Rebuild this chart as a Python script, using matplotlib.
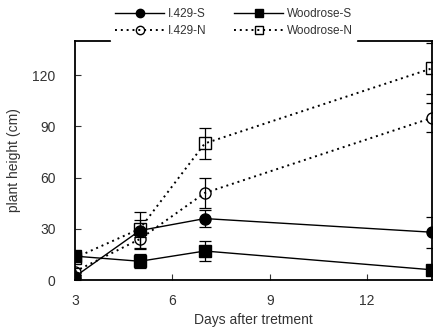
import matplotlib.pyplot as plt
from matplotlib.lines import Line2D

plt.rcParams['font.family'] = ['Liberation Sans', 'DejaVu Sans']

# data
days = [3, 5, 7, 14]
i429_s = [2, 29, 36, 28]
i429_s_err = [1, 11, 5, 9]
wood_s = [14, 11, 17, 6]
wood_s_err = [2, 4, 6, 2]
i429_n = [5, 24, 51, 95]
i429_n_err = [2, 5, 9, 8.5]
wood_n = [13, 30, 80, 124]
wood_n_err = [2, 5, 9, 15]

fig = plt.figure(figsize=(4.33, 3.33), dpi=100)
ax = fig.add_axes([0.173, 0.159, 0.825, 0.718])

dot = (0, (1, 2))
common = dict(color='black', capsize=4, elinewidth=0.9, capthick=0.9, markersize=8)
ax.errorbar(days, i429_s, yerr=i429_s_err, marker='o', ls='-', lw=1, mfc='black', **common)
ax.errorbar(days, wood_s, yerr=wood_s_err, marker='s', ls='-', lw=1, mfc='black', **common)
ax.errorbar(days, i429_n, yerr=i429_n_err, marker='o', ls=dot, lw=1.4, mfc='none', **common)
ax.errorbar(days, wood_n, yerr=wood_n_err, marker='s', ls=dot, lw=1.4, mfc='none', **common)

ax.set_xlim(3, 14)
ax.set_ylim(0, 140)
ax.set_xticks([3, 6, 9, 12])
ax.set_yticks([0, 30, 60, 90, 120])
ax.tick_params(direction='in', length=4, labelsize=10, colors='#333333', labelcolor='#333333')
ax.tick_params(axis='x', pad=10)
ax.tick_params(axis='y', pad=14)
for s in ax.spines.values():
    s.set_linewidth(1.3)
ax.set_xlabel('Days after tretment', fontsize=10, color='#333333', labelpad=4)
ax.set_ylabel('plant height (cm)', fontsize=10, color='#333333', labelpad=8)

handles = [
    Line2D([], [], color='black', lw=1, marker='o', ms=6, mfc='black'),
    Line2D([], [], color='black', lw=1.4, ls=dot, marker='o', ms=6, mfc='none'),
    Line2D([], [], color='black', lw=1, marker='s', ms=6, mfc='black'),
    Line2D([], [], color='black', lw=1.4, ls=dot, marker='s', ms=6, mfc='none'),
]
labels = ['I.429-S', 'I.429-N', 'Woodrose-S', 'Woodrose-N']
leg = ax.legend(handles, labels, ncol=2, loc='lower center',
                bbox_to_anchor=(0.445, 0.975), fontsize=8.5, handlelength=4.2, columnspacing=2.3,
                handletextpad=0.3, frameon=True, fancybox=False, edgecolor='white',
                facecolor='white', framealpha=1, borderpad=0.3, labelspacing=0.45)
for t in leg.get_texts():
    t.set_color('#333333')

plt.savefig('out.png', dpi=100)
